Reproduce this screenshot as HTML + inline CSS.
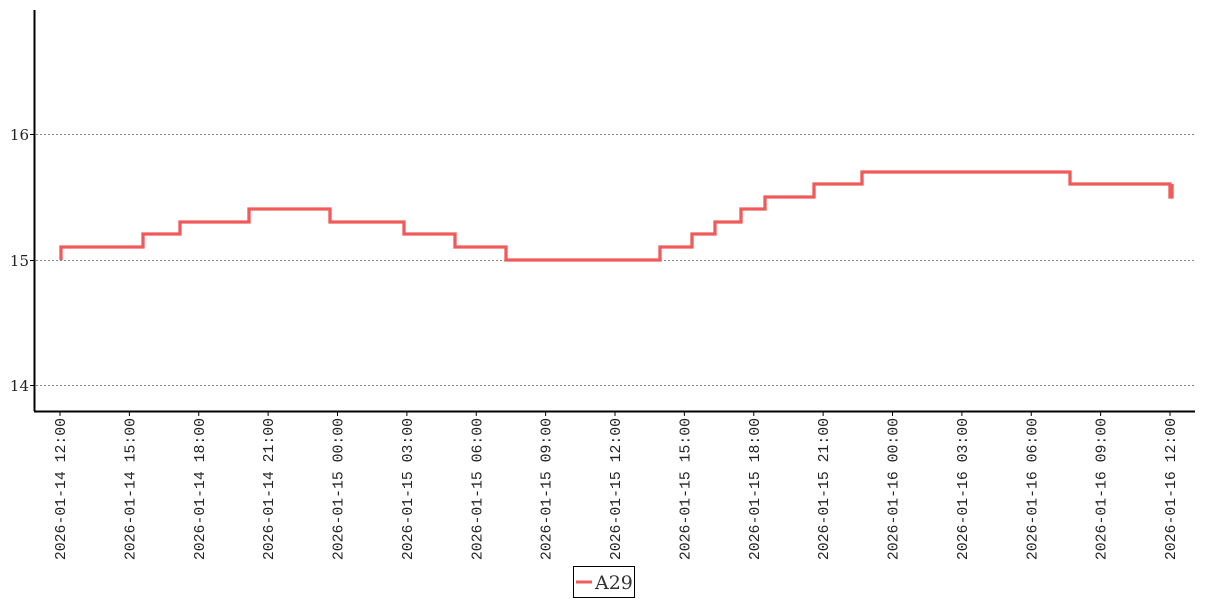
<!DOCTYPE html><html><head><style>body{margin:0;background:#fff}</style></head><body>
<svg width="1207" height="600" xmlns="http://www.w3.org/2000/svg" style="display:block">
<g stroke="#888" stroke-dasharray="2,2" stroke-width="1">
<line x1="36" x2="1195" y1="134.5" y2="134.5"/><line x1="36" x2="1195" y1="260.5" y2="260.5"/><line x1="36" x2="1195" y1="385.5" y2="385.5"/></g>
<line x1="34.5" x2="34.5" y1="10" y2="411" stroke="#000" stroke-width="2"/>
<line x1="34" x2="1195" y1="411.5" y2="411.5" stroke="#000" stroke-width="2"/>
<g font-family="DejaVu Serif, serif" font-size="15" fill="#222" text-anchor="end">
<text x="29" y="140">16</text><text x="29" y="266">15</text><text x="29" y="391">14</text></g>
<g stroke="#000"><line x1="30" x2="34" y1="134.5" y2="134.5"/><line x1="30" x2="34" y1="260.5" y2="260.5"/><line x1="30" x2="34" y1="385.5" y2="385.5"/></g>
<g id="ticks" font-family="Liberation Mono, monospace" font-size="14.8" fill="#222" text-anchor="end"></g>
<polyline fill="none" stroke="#f05a5a" stroke-width="3.3" points="61,260 61,247 143,247 143,234 180,234 180,222 249,222 249,209 330,209 330,222 404,222 404,234 455,234 455,247 506,247 506,260 660,260 660,247 692,247 692,234 715,234 715,222 741,222 741,209 765,209 765,197 814,197 814,184 862,184 862,172 1070,172 1070,184 1170,184 1170,197 1172,197 1172,184"/>
<rect x="573.5" y="566.5" width="61" height="31" fill="#fff" stroke="#000"/>
<line x1="576" x2="592" y1="582" y2="582" stroke="#f05a5a" stroke-width="3"/>
<text x="595" y="589" font-family="DejaVu Serif, serif" font-size="19" fill="#333">A29</text>
<script>
var g=document.getElementById('ticks'),labs=["2026-01-14 12:00","2026-01-14 15:00","2026-01-14 18:00","2026-01-14 21:00","2026-01-15 00:00","2026-01-15 03:00","2026-01-15 06:00","2026-01-15 09:00","2026-01-15 12:00","2026-01-15 15:00","2026-01-15 18:00","2026-01-15 21:00","2026-01-16 00:00","2026-01-16 03:00","2026-01-16 06:00","2026-01-16 09:00","2026-01-16 12:00"];
var ns="http://www.w3.org/2000/svg";
labs.forEach(function(l,i){var x=60+i*69.375;var t=document.createElementNS(ns,'text');t.setAttribute('transform','translate('+(x+5)+',418) rotate(-90)');t.textContent=l;g.appendChild(t);var ln=document.createElementNS(ns,'line');ln.setAttribute('x1',x);ln.setAttribute('x2',x);ln.setAttribute('y1',412);ln.setAttribute('y2',416);ln.setAttribute('stroke','#000');g.parentNode.appendChild(ln);});
</script>
</svg></body></html>
